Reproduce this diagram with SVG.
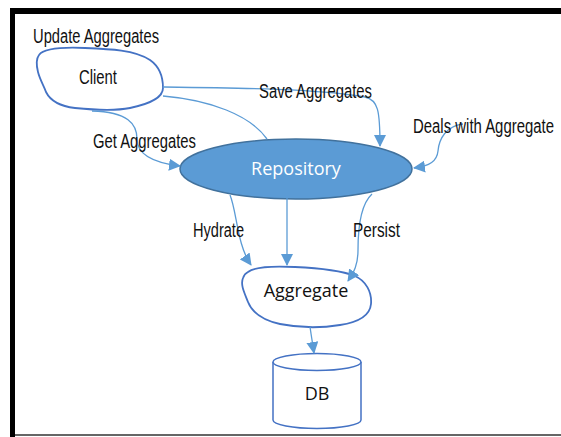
<svg xmlns="http://www.w3.org/2000/svg" width="561" height="437" viewBox="0 0 561 437">
<defs>
<style>
.lbl{font-family:"Liberation Sans",Arial,sans-serif;font-size:20px;fill:#111;}
.node{font-family:"Open Sans","Noto Sans",sans-serif;font-size:18px;fill:#111;}
.blob{fill:#fff;stroke:#4472c4;stroke-width:1.8;}
.conn{fill:none;stroke:#5b9bd5;stroke-width:1.3;}
</style>
<marker id="ah" markerUnits="userSpaceOnUse" markerWidth="12" markerHeight="12" viewBox="0 0 12 12" refX="11" refY="6" orient="auto">
<path d="M0,0 L12,6 L0,12 Z" fill="#5b9bd5"/>
</marker>
</defs>
<rect x="0" y="0" width="561" height="437" fill="#fff"/>
<g id="frame">
<rect x="10" y="8" width="551" height="6" fill="#000"/>
<rect x="10" y="8" width="5" height="429" fill="#000"/>
<rect x="15" y="434" width="546" height="2" fill="#666"/>
</g>
<g id="client">
<path class="blob" d="M39,55 C44,48 62,47 85,48 C110,49 135,50 150,60 C160,67 163,76 163,88 C163,97 150,104 130,108 C115,111 95,110 75,108 C58,106 50,100 46,92 C44,86 40,80 38,72 C36,64 36,59 39,55 Z"/>
<text class="lbl" x="79" y="84" font-size="22" textLength="38" lengthAdjust="spacingAndGlyphs">Client</text>
</g>
<g id="repository">
<ellipse cx="296" cy="169" rx="116" ry="30" fill="#5b9bd5" stroke="#41719c" stroke-width="1.5"/>
<text class="node" x="296" y="175" text-anchor="middle" style="fill:#fff" font-size="17">Repository</text>
</g>
<g id="aggregate">
<path class="blob" d="M248,272 C255,266 275,266 295,267 C318,268 340,270 355,276 C366,281 372,292 371,304 C370,315 360,322 340,325 C322,328 300,328 280,324 C262,320 252,312 248,302 C245,294 240,285 243,278 C244,275 246,273 248,272 Z"/>
<text class="node" x="306" y="297" text-anchor="middle" font-size="18">Aggregate</text>
</g>
<g id="db">
<path d="M273,362 L273,420 A44,8.5 0 0 0 361,420 L361,362" fill="#fff" stroke="#4472c4" stroke-width="1.5"/>
<ellipse cx="317" cy="362" rx="44" ry="8.5" fill="#fff" stroke="#4472c4" stroke-width="1.5"/>
<text class="node" x="317" y="400" text-anchor="middle" font-size="20">DB</text>
</g>
<g id="connectors">
<path class="conn" marker-end="url(#ah)" d="M163,87 C240,88 320,89 365,97 C378,100 380,110 380,146"/>
<path class="conn" d="M163,96 C210,100 250,115 267,139"/>
<path class="conn" marker-end="url(#ah)" d="M92,111 C128,112 137,124 137,139 C137,155 155,163 180,166"/>
<path class="conn" marker-end="url(#ah)" d="M463,124 C446,126 439,139 438,151 C437,161 430,166 414,168"/>
<path class="conn" marker-end="url(#ah)" d="M230,195 C237,212 237,245 251,265"/>
<path class="conn" marker-end="url(#ah)" d="M287,197 L287,265"/>
<path class="conn" marker-end="url(#ah)" d="M372,194 C360,205 358,230 358,250 C358,265 354,272 348,281"/>
<path class="conn" marker-end="url(#ah)" d="M310,327 L314,353"/>
</g>
<g id="labels">
<text class="lbl" x="33" y="43" textLength="126" lengthAdjust="spacingAndGlyphs">Update Aggregates</text>
<text class="lbl" x="259" y="98" textLength="113" lengthAdjust="spacingAndGlyphs">Save Aggregates</text>
<text class="lbl" x="93" y="148" textLength="103" lengthAdjust="spacingAndGlyphs">Get Aggregates</text>
<text class="lbl" x="413" y="133" textLength="141" lengthAdjust="spacingAndGlyphs">Deals with Aggregate</text>
<text class="lbl" x="193" y="237" textLength="51" lengthAdjust="spacingAndGlyphs">Hydrate</text>
<text class="lbl" x="353" y="237" textLength="47" lengthAdjust="spacingAndGlyphs">Persist</text>
</g>
</svg>
